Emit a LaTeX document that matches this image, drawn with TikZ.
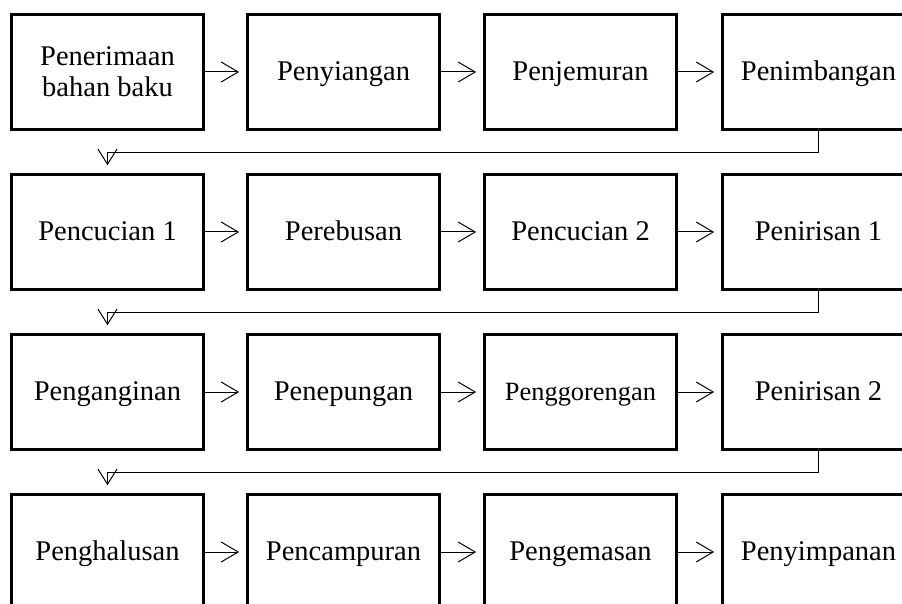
\documentclass[tikz,border=0pt]{standalone}
\usepackage{fontspec}
\setmainfont{Liberation Serif}
\usetikzlibrary{arrows.meta,calc}
\begin{document}
\begin{tikzpicture}[x=1pt,y=1pt,
  boxframe/.style={draw=black,line width=2.7pt,rectangle,minimum width=192pt,minimum height=115pt,inner sep=0pt},
  stepbox/.style={boxframe,align=center,text height=20pt,text depth=2.6pt,font=\fontsize{28.5}{31}\selectfont},
  flow/.style={draw=black,line width=1pt,-{Straight Barb[length=17pt,width=20pt,line width=1pt]},shorten >=7pt},
  turn/.style={draw=black,line width=1pt,-{Straight Barb[length=15pt,width=19pt,line width=1pt]}}
]
\useasboundingbox (0,0) rectangle (902,603);
\clip (0,0) rectangle (902,603);
\fill[white] (0,0) rectangle (902,603);
% column centers
\def\ca{107.5}\def\cb{343.5}\def\cc{580.5}\def\cd{818.5}
% row centers (y up)
\def\ra{531}\def\rb{371}\def\rc{211}\def\rd{51}
\node[boxframe] (b1) at (\ca,\ra) {};
\node[font=\fontsize{28.5}{31}\selectfont,inner sep=0pt,anchor=base] (b1t) at (\ca,537.3)
  {\begin{tabular}[t]{@{}c@{}}Penerimaan\\bahan baku\end{tabular}};
\node[stepbox] (b2) at (\cb,\ra) {Penyiangan};
\node[stepbox] (b3) at (\cc,\ra) {Penjemuran};
\node[stepbox] (b4) at (\cd,\ra) {Penimbangan};
\node[stepbox] (b5) at (\ca,\rb) {Pencucian 1};
\node[stepbox] (b6) at (\cb,\rb) {Perebusan};
\node[stepbox] (b7) at (\cc,\rb) {Pencucian 2};
\node[stepbox] (b8) at (\cd,\rb) {Penirisan 1};
\node[stepbox] (b9) at (\ca,\rc) {Penganginan};
\node[stepbox] (b10) at (\cb,\rc) {Penepungan};
\node[stepbox,font=\fontsize{26.4}{30}\selectfont] (b11) at (\cc,\rc) {Penggorengan};
\node[stepbox] (b12) at (\cd,\rc) {Penirisan 2};
\node[stepbox] (b13) at (\ca,\rd) {Penghalusan};
\node[stepbox] (b14) at (\cb,\rd) {Pencampuran};
\node[stepbox] (b15) at (\cc,\rd) {Pengemasan};
\node[stepbox] (b16) at (\cd,\rd) {Penyimpanan};
% horizontal arrows
\foreach \a/\b in {b1/b2,b2/b3,b3/b4,b5/b6,b6/b7,b7/b8,b9/b10,b10/b11,b11/b12,b13/b14,b14/b15,b15/b16}
  \draw[flow] (\a.east) -- (\b.west);
% row transitions
\coordinate (t5) at ($(b5.north)+(0,8)$);
\coordinate (t9) at ($(b9.north)+(0,8)$);
\coordinate (t13) at ($(b13.north)+(0,8)$);
\draw[turn] (b4.south) -- ++(0,-22) -| (t5);
\draw[turn] (b8.south) -- ++(0,-22) -| (t9);
\draw[turn] (b12.south) -- ++(0,-22) -| (t13);
\end{tikzpicture}
\end{document}
